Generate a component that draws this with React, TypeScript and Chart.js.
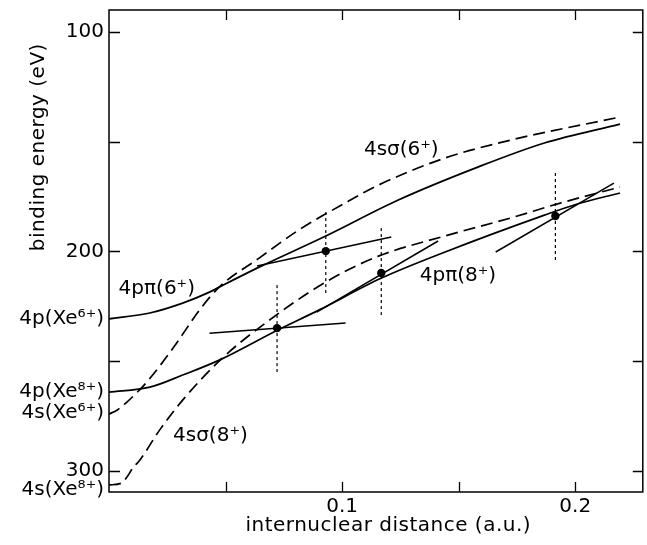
import React, { useEffect, useRef } from "react";
import { Chart, registerables } from "chart.js";

Chart.register(...registerables);

const FONT = '"DejaVu Sans", "Noto Sans", sans-serif';

// 4pπ(6+) solid curve
const pi6R = [0, 0.0175, 0.0316, 0.0431, 0.0473, 0.0644, 0.093, 0.1241, 0.1582, 0.1868, 0.2192];
const pi6E = [230.8, 228.1, 223.6, 218.6, 216.3, 207.2, 193.0, 176.6, 161.6, 150.6, 142.0];

// 4pπ(8+) solid curve
const pi8R = [0, 0.0175, 0.0316, 0.0473, 0.0716, 0.09, 0.1169, 0.1442, 0.1868, 0.2009, 0.2192];
const pi8E = [264.2, 261.9, 256.4, 249.6, 236.3, 226.8, 212.2, 200.3, 183.5, 178.4, 173.4];

// 4sσ(6+) dashed curve
const s6R = [0, 0.0034, 0.0077, 0.0162, 0.0281, 0.0388, 0.0473, 0.0644, 0.0814, 0.1028, 0.1156, 0.1441, 0.1723, 0.2192];
const s6E = [274.2, 272.4, 268.7, 259.6, 243.2, 226.8, 216.3, 203.1, 190.3, 177.1, 169.8, 157.5, 149.3, 138.8];

// 4sσ(8+) dashed curve
const s8R = [0, 0.0055, 0.0077, 0.0102, 0.0132, 0.0217, 0.0316, 0.0486, 0.0631, 0.093, 0.1156, 0.1441, 0.1723, 0.1936, 0.2192];
const s8E = [306.5, 305.6, 302.9, 298.8, 295.2, 281.5, 267.8, 248.7, 235.9, 214.0, 202.2, 193.0, 184.8, 178.0, 170.7];

// measured points
const dotR = [0.0721, 0.093, 0.1168, 0.1915];
const dotE = [235.0, 199.9, 209.9, 183.9];

// dotted vertical error bars (top / bottom energies)
const barTopE = [215.4, 182.1, 189.4, 164.3];
const barBottomE = [255.0, 219.9, 230.0, 204.9];

// straight tangent segments: start / end
const tanStartR = [0.0431, 0.0635, 0.0891, 0.1659];
const tanStartE = [237.3, 206.7, 227.7, 200.3];
const tanEndR = [0.1015, 0.1211, 0.1412, 0.2166];
const tanEndE = [232.7, 193.5, 195.3, 168.9];

// axes
const xTickValues = [0.1, 0.2];
const xTickLabels = ["0.1", "0.2"];
const xTickMarks = [0.05, 0.1, 0.15, 0.2];
const yTickValues = [100, 200, 300, 230.8, 264.2, 273.5, 308.5];
const yTickLabels = ["100", "200", "300", "4p(Xe\u2076\u207A)", "4p(Xe\u2078\u207A)", "4s(Xe\u2076\u207A)", "4s(Xe\u2078\u207A)"];
const yTickMarks = [100, 150, 200, 250, 300];

// curve annotations
const annTexts = ["4p\u03C0(6\u207A)", "4s\u03C3(6\u207A)", "4p\u03C0(8\u207A)", "4s\u03C3(8\u207A)"];
const annR = [0.0205, 0.1254, 0.1497, 0.0435];
const annE = [217.2, 153.8, 211.3, 284.2];

const xTitle = "internuclear distance (a.u.)";
const yTitle = "binding energy (eV)";

const pts = (r: number[], e: number[]) => r.map((v, i) => ({ x: v, y: e[i] }));

const decorPlugin = {
  id: "decor",
  afterDatasetsDraw(chart: any) {
    const { ctx, chartArea: a, scales } = chart;
    const x = scales.x;
    const y = scales.y;
    ctx.save();
    ctx.strokeStyle = "#000";
    ctx.lineWidth = 1.5;
    ctx.strokeRect(a.left, a.top, a.right - a.left, a.bottom - a.top);
    ctx.lineWidth = 1.3;
    ctx.beginPath();
    for (const v of xTickMarks) {
      const p = Math.round(x.getPixelForValue(v)) + 0.5;
      ctx.moveTo(p, a.bottom);
      ctx.lineTo(p, a.bottom - 10);
      ctx.moveTo(p, a.top);
      ctx.lineTo(p, a.top + 10);
    }
    for (const v of yTickMarks) {
      const p = Math.round(y.getPixelForValue(v)) + 0.5;
      ctx.moveTo(a.left, p);
      ctx.lineTo(a.left + 11, p);
      ctx.moveTo(a.right, p);
      ctx.lineTo(a.right - 10, p);
    }
    ctx.stroke();

    ctx.fillStyle = "#000";
    ctx.font = `20px ${FONT}`;
    ctx.textAlign = "center";
    ctx.textBaseline = "middle";
    annTexts.forEach((t, i) => {
      ctx.fillText(t, x.getPixelForValue(annR[i]), y.getPixelForValue(annE[i]));
    });

    (ctx as any).letterSpacing = "0.5px";
    ctx.fillText(xTitle, x.getPixelForValue(0.1198), chart.height - 19);
    ctx.save();
    ctx.translate(39, y.getPixelForValue(152.5));
    ctx.rotate(-Math.PI / 2);
    ctx.fillText(yTitle, 0, 0);
    ctx.restore();
    ctx.restore();
  },
};

const noPad = (s: any) => {
  s.paddingTop = 0;
  s.paddingBottom = 0;
  s.paddingLeft = 0;
  s.paddingRight = 0;
};

export default function App() {
  const ref = useRef<HTMLCanvasElement | null>(null);

  useEffect(() => {
    if (!ref.current) return;
    const solid = { borderColor: "#000", borderWidth: 1.7, pointRadius: 0, showLine: true, fill: false };
    const curve = { ...solid, cubicInterpolationMode: "monotone" as const };
    const dashed = { ...curve, borderDash: [12, 6] };
    const datasets: any[] = [
      { ...curve, label: "4pπ(6+)", data: pts(pi6R, pi6E) },
      { ...curve, label: "4pπ(8+)", data: pts(pi8R, pi8E) },
      { ...dashed, label: "4sσ(6+)", data: pts(s6R, s6E) },
      { ...dashed, label: "4sσ(8+)", data: pts(s8R, s8E) },
    ];
    tanStartR.forEach((r, i) => {
      datasets.push({
        ...solid,
        borderWidth: 1.5,
        label: `tangent ${i + 1}`,
        data: [
          { x: r, y: tanStartE[i] },
          { x: tanEndR[i], y: tanEndE[i] },
        ],
      });
    });
    dotR.forEach((r, i) => {
      datasets.push({
        ...solid,
        borderWidth: 1.2,
        borderDash: [3, 3],
        label: `bar ${i + 1}`,
        data: [
          { x: r, y: barTopE[i] },
          { x: r, y: barBottomE[i] },
        ],
      });
    });
    datasets.push({
      label: "points",
      data: pts(dotR, dotE),
      showLine: false,
      pointRadius: 4.2,
      pointBackgroundColor: "#000",
      pointBorderColor: "#000",
      pointBorderWidth: 0,
    });

    const chart = new Chart(ref.current, {
      type: "scatter",
      data: { datasets },
      options: {
        animation: false,
        responsive: false,
        layout: { padding: { top: 10, right: 1, left: 0, bottom: 0 } },
        plugins: { legend: { display: false }, tooltip: { enabled: false } },
        scales: {
          x: {
            type: "linear",
            min: 0,
            max: 0.229,
            grid: { display: false, drawTicks: false },
            border: { display: false },
            afterBuildTicks: (s: any) => {
              s.ticks = xTickValues.map((v) => ({ value: v }));
            },
            afterFit: (s: any) => {
              s.height = 53;
              noPad(s);
            },
            ticks: {
              autoSkip: false,
              maxRotation: 0,
              padding: 3,
              color: "#000",
              font: { family: FONT, size: 20 },
              callback: (_v: any, i: number) => xTickLabels[i],
            },
          },
          y: {
            type: "linear",
            reverse: true,
            min: 90,
            max: 309.7,
            grid: { display: false, drawTicks: false },
            border: { display: false },
            afterBuildTicks: (s: any) => {
              s.ticks = yTickValues.map((v) => ({ value: v }));
            },
            afterFit: (s: any) => {
              s.width = 109;
              noPad(s);
            },
            ticks: {
              autoSkip: false,
              padding: 5,
              color: "#000",
              font: { family: FONT, size: 20 },
              callback: (_v: any, i: number) => yTickLabels[i],
            },
          },
        },
      },
      plugins: [decorPlugin],
    });
    return () => chart.destroy();
  }, []);

  return (
    <div style={{ position: "fixed", left: 0, top: 0, width: 647, height: 545, background: "#fff" }}>
      <canvas ref={ref} width={647} height={545} />
    </div>
  );
}
